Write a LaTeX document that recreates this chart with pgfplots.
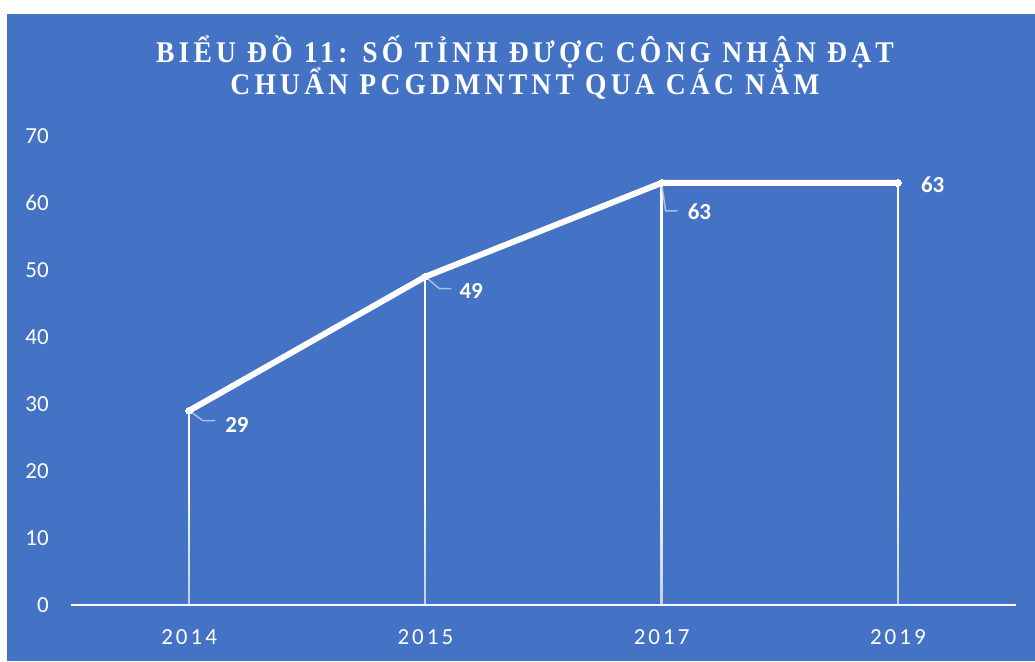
\documentclass[border=0pt]{standalone}
\usepackage{fontspec}
\setmainfont{Carlito}
\newfontfamily\titlefont[FakeStretch=0.92,LetterSpace=14]{Liberation Serif}
\newfontfamily\spacedfont[LetterSpace=13]{Carlito}
\usepackage{pgfplots}
\pgfplotsset{compat=1.18}
\usetikzlibrary{fadings}
\definecolor{bg}{HTML}{4472C4}
\definecolor{leader}{HTML}{A9BDE5}
\pgfdeclareverticalshading{dropshade}{100bp}{color(0bp)=(black); color(20bp)=(white!55!black); color(40bp)=(white); color(100bp)=(white)}
\pgfdeclarefading{dropfade}{\pgfuseshading{dropshade}}
\begin{document}
\begin{tikzpicture}[x=1pt,y=1pt]
\useasboundingbox (0,0) rectangle (1035,661);
\fill[white] (0,0) rectangle (1035,661);
\fill[bg] (7,0) rectangle (1035,647);
\node[anchor=base, text=white, font=\titlefont\bfseries\fontsize{30}{30}\selectfont] at (525,598) {BIỂU ĐỒ 11: SỐ TỈNH ĐƯỢC CÔNG NHẬN ĐẠT};
\node[anchor=base, text=white, font=\titlefont\bfseries\fontsize{30}{30}\selectfont] at (525,566) {CHUẨN PCGDMNTNT QUA CÁC NĂM};
\begin{axis}[
  at={(71pt,56pt)}, anchor=south west,
  scale only axis, width=945pt, height=469pt,
  xmin=-0.5, xmax=3.5, ymin=0, ymax=70,
  axis x line*=bottom, axis y line*=left,
  x axis line style={white, line width=2.5pt, -},
  y axis line style={draw=none},
  major tick length=0pt,
  xtick={0,1,2,3}, xticklabels={2014,2015,2017,2019},
  ytick={0,10,...,70},
  /pgf/number format/assume math mode=true,
  yticklabel style={font=\fontsize{23}{23}\selectfont, text=white, inner sep=0pt, anchor=east, xshift=-22pt},
  xticklabel style={font=\spacedfont\fontsize{23}{23}\selectfont, text=white, inner sep=0pt, anchor=north, yshift=-24pt},
  clip=false,
]
\addplot[white, line width=2.2pt, ycomb, path fading=dropfade, fit fading=true] coordinates {(0,29) (1,49) (2,63) (3,63)};
\addplot[white, line width=6pt, line join=round, mark=*, mark size=3.5pt, mark options={white, line width=0pt}] coordinates {(0,29) (1,49) (2,63) (3,63)};
\draw[leader, line width=1.5pt] (axis cs:0,29) -- ++(14pt,-10pt) -- ++(12pt,0pt);
\draw[leader, line width=1.5pt] (axis cs:1,49) -- ++(14pt,-12pt) -- ++(12pt,0pt);
\draw[leader, line width=1.5pt] (axis cs:2,63) -- ++(4pt,-28pt) -- ++(12pt,0pt);
\node[anchor=west, text=white, font=\bfseries\fontsize{23}{23}\selectfont, inner sep=0pt] at ([xshift=36pt,yshift=-14pt]axis cs:0,29) {29};
\node[anchor=west, text=white, font=\bfseries\fontsize{23}{23}\selectfont, inner sep=0pt] at ([xshift=34pt,yshift=-14pt]axis cs:1,49) {49};
\node[anchor=west, text=white, font=\bfseries\fontsize{23}{23}\selectfont, inner sep=0pt] at ([xshift=26pt,yshift=-29pt]axis cs:2,63) {63};
\node[anchor=west, text=white, font=\bfseries\fontsize{23}{23}\selectfont, inner sep=0pt] at ([xshift=23pt,yshift=-2pt]axis cs:3,63) {63};
\end{axis}
\end{tikzpicture}
\end{document}
